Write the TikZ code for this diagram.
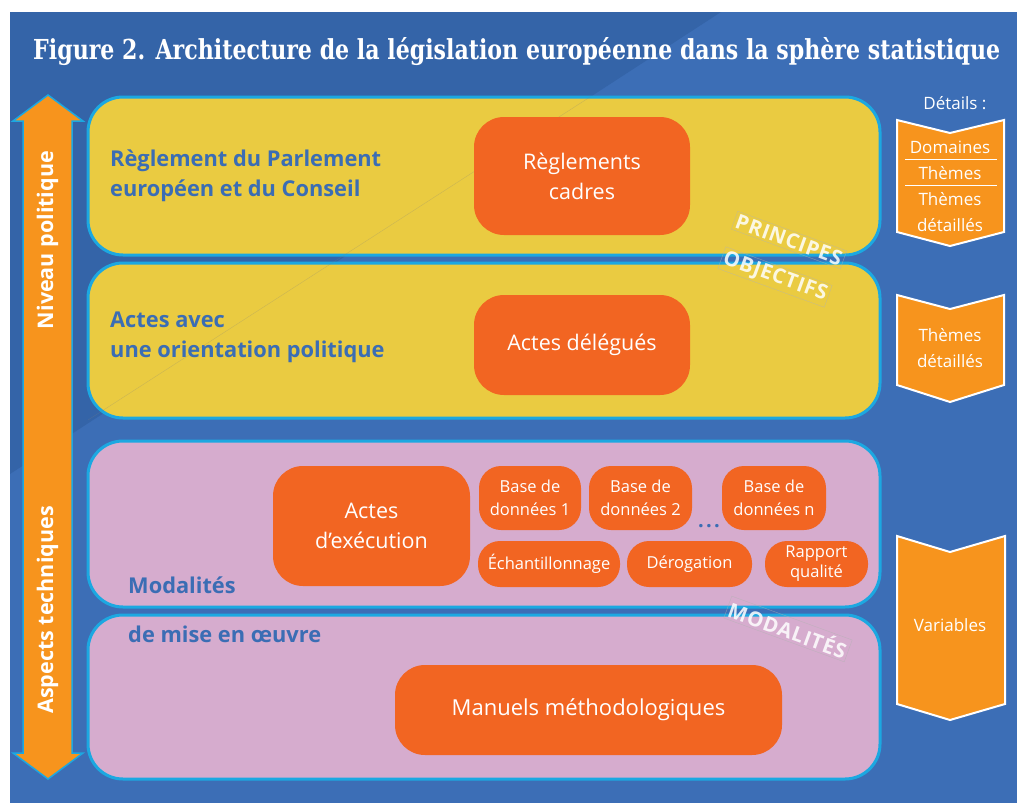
\documentclass[tikz,border=0pt]{standalone}
\usepackage{graphicx}
\usepackage{fontspec}
\setmainfont{Open Sans}
\newfontfamily\titlefont{DejaVu Serif}
\usepackage{tikz}
\usetikzlibrary{shapes,arrows}
\usetikzlibrary{positioning}
\definecolor{bgblue}{RGB}{60,110,182}
\definecolor{bgdark}{RGB}{52,100,168}
\definecolor{rim}{RGB}{28,168,225}
\definecolor{panelyellow}{RGB}{234,203,65}
\definecolor{panelpink}{RGB}{214,172,206}
\definecolor{nodeorange}{RGB}{242,101,34}
\definecolor{arroworange}{RGB}{247,148,29}
\definecolor{labelblue}{RGB}{59,109,180}
\tikzstyle{panel} = [rectangle, draw=rim, line width=3pt, rounded corners=35pt,
    minimum width=792pt, inner sep=0pt]
\tikzstyle{block} = [rectangle, fill=nodeorange, text=white, rounded corners=30pt,
    align=center, inner sep=0pt, font=\fontsize{21.5}{30}\selectfont]
\tikzstyle{small} = [block, rounded corners=22pt, font=\fontsize{16.5}{23}\selectfont]
\tikzstyle{tag} = [text=labelblue, anchor=west, align=left, inner sep=0pt,
    font=\bfseries\fontsize{21.8}{30}\selectfont]
\tikzstyle{stamp} = [rotate=-20, draw=gray!60, thin, draw opacity=0.6, text=white,
    text opacity=0.85, inner sep=2pt,
    font=\bfseries\fontsize{20.5}{22}\selectfont\addfontfeature{LetterSpace=4}]
\tikzstyle{chevron} = [fill=arroworange, draw=white, line width=2pt]
\tikzstyle{note} = [text=white, inner sep=0pt, align=center,
    font=\fontsize{17}{26}\selectfont]
\tikzstyle{side} = [rotate=90, text=white, font=\bfseries\fontsize{21.5}{21}\selectfont]

\begin{document}
\begin{tikzpicture}[x=1pt, y=-1pt]
  \useasboundingbox (0,0) rectangle (1017,803);
  % Background
  \fill[bgblue] (10,12) rectangle (1017,803);
  \fill[bgdark] (10,12) -- (721,12) -- (10,474) -- cycle;
  \node [anchor=base west, inner sep=0pt, text=white] (title) at (33,59)
  {\resizebox{967pt}{22pt}{\titlefont\bfseries Figure 2. Architecture de la législation européenne dans la sphère statistique}};
  % Place panels
  \node [panel, fill=panelyellow, minimum height=158pt] (cadre) at (484,176) {};
  \node [panel, fill=panelyellow, minimum height=155pt] (delegue) at (484,340.5) {};
  \node [panel, fill=panelpink, minimum height=166pt] (execution) at (484,524) {};
  \node [panel, fill=panelpink, minimum height=164pt] (manuel) at (484,697) {};
  \draw [gray, opacity=0.3, thin] (590,97) -- (88,420);
  % Panel texts
  \node [tag] (parlement) at (110,176) {Règlement du Parlement\\européen et du Conseil};
  \node [tag] (orientation) at (110,337) {Actes avec\\une orientation politique};
  \node [tag, anchor=base west] (modalites) at (128,593) {Modalités};
  \node [tag, anchor=base west] (miseoeuvre) at (128,642) {de mise en œuvre};
  % Place nodes
  \node [block, minimum width=216pt, minimum height=118pt] (reglements) at (582,176)
  {Règlements\\cadres};
  \node [block, minimum width=216pt, minimum height=100pt] (delegues) at (582,345)
  {Actes délégués};
  \node [block, minimum width=197pt, minimum height=120pt] (actesexec) at (371.5,526)
  {Actes\\d’exécution};
  \node [small, minimum width=102pt, minimum height=64pt] (base1) at (530,498)
  {Base de\\données 1};
  \node [small, minimum width=103pt, minimum height=64pt] (base2) at (640.5,498)
  {Base de\\données 2};
  \node [small, minimum width=104pt, minimum height=64pt] (basen) at (774,498)
  {Base de\\données n};
  \node [anchor=base, inner sep=0pt, text=labelblue,
    font=\bfseries\fontsize{20}{20}\selectfont\addfontfeature{LetterSpace=12}] (dots) at (709,527) {...};
  \node [small, minimum width=142pt, minimum height=46pt] (echant) at (549,564)
  {Échantillonnage};
  \node [small, minimum width=125pt, minimum height=46pt] (derog) at (689.5,564)
  {Dérogation};
  \node [small, minimum width=103pt, minimum height=46pt, font=\fontsize{16.5}{20}\selectfont]
  (rapport) at (816.5,564) {Rapport\\qualité};
  \node [block, minimum width=387pt, minimum height=90pt, font=\fontsize{22}{30}\selectfont]
  (manuels) at (588.5,710) {Manuels méthodologiques};
  % Stamps
  \node [stamp] (principes) at (789,240) {PRINCIPES};
  \node [stamp] (objectifs) at (775,277) {OBJECTIFS};
  \node [stamp] (modal) at (788,629) {MODALITÉS};
  % Left double arrow
  \draw [fill=arroworange, draw=rim, line width=1.5pt]
    (48,95) -- (83,121) -- (72,121) -- (72,753) -- (83,753) -- (48,779)
    -- (13,753) -- (23,753) -- (23,121) -- (13,121) -- cycle;
  \node [side] (niveau) at (47.5,240) {Niveau politique};
  \node [side] (aspects) at (47.5,610) {Aspects techniques};
  % Right details
  \node [note] (details) at (955,103) {Détails :};
  \draw [chevron] (897,120) -- (950,133) -- (1004,120) -- (1004,232) -- (950,246) -- (897,232) -- cycle;
  \node [note] (domaines) at (950,147) {Domaines};
  \node [note] (themes) at (950,173) {Thèmes};
  \node [note] (themesdet) at (950,212.5) {Thèmes\\détaillés};
  \draw [white, thin] (905,159) -- (997,159);
  \draw [white, thin] (905,185) -- (997,185);
  \draw [chevron] (897,295) -- (950,309) -- (1004,295) -- (1004,385) -- (950,402) -- (897,385) -- cycle;
  \node [note] (themesdet2) at (950,348) {Thèmes\\détaillés};
  \draw [chevron] (897,536) -- (950,552) -- (1005,536) -- (1005,704) -- (950,720) -- (897,704) -- cycle;
  \node [note] (variables) at (950,625) {Variables};
\end{tikzpicture}
\end{document}
